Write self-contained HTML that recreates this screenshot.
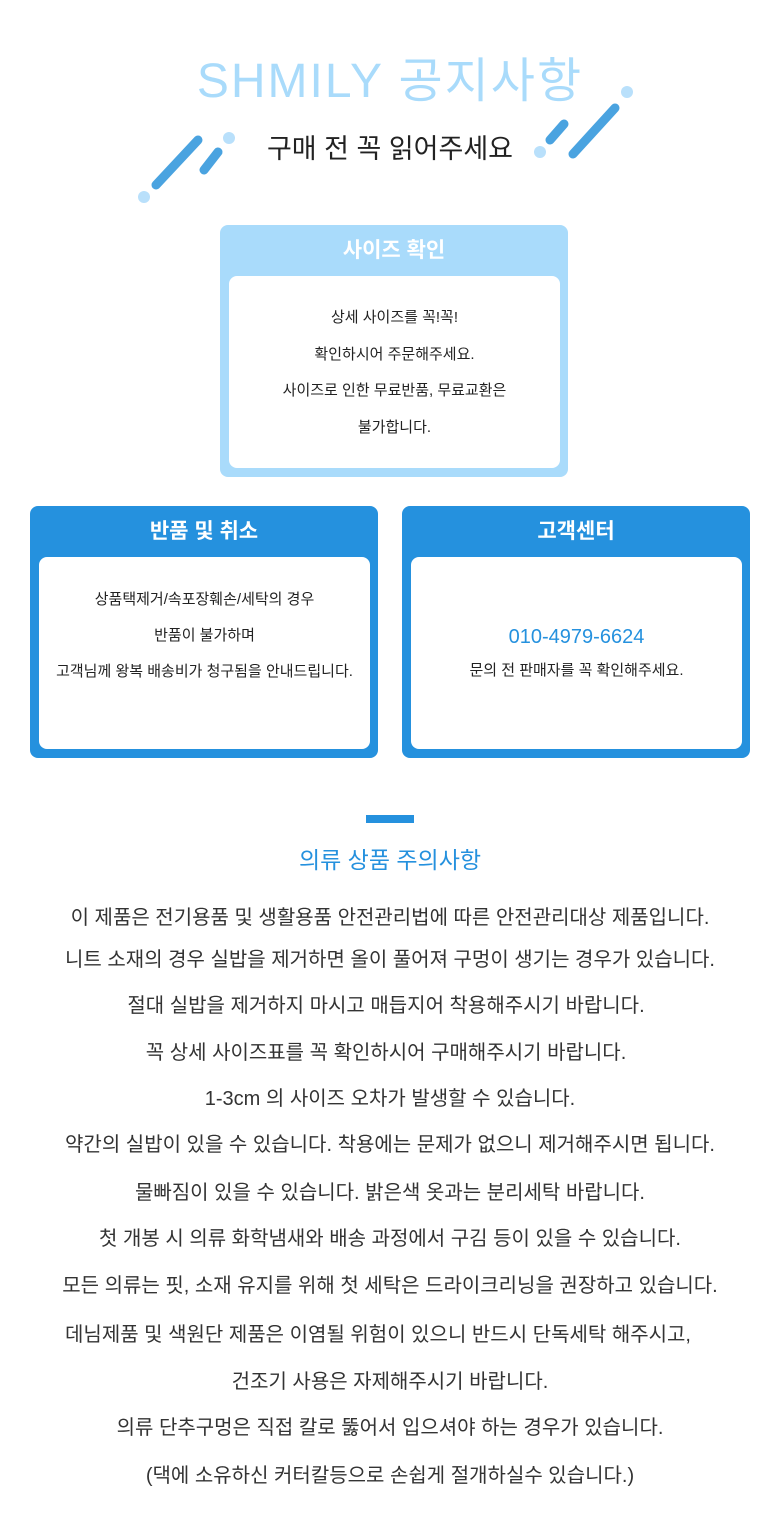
<!DOCTYPE html>
<html><head><meta charset="utf-8"><style>
body{margin:0;width:780px;height:1537px;background:#fff;position:relative;font-family:"Liberation Sans","Noto Sans CJK KR",sans-serif;overflow:hidden}
.a{position:absolute}
.box{position:absolute;border-radius:8px}
.box .h{position:absolute;left:0;right:0;top:0;height:51px;line-height:51px;text-align:center;color:#fff;font-size:21px;font-weight:bold}
.box .in{position:absolute;left:9px;right:8px;top:51px;bottom:9px;background:#fff;border-radius:8px;text-align:center;font-size:15px;color:#222}
.l{position:absolute;left:0;width:780px;text-align:center;font-size:20px;color:#333}
</style></head><body>
<div class="a" style="left:0;top:41px;width:780px;text-align:center;font-size:48px;color:#a9dbfb;letter-spacing:2px">SHMILY 공지사항</div>
<div class="a" style="left:0;top:127px;width:780px;text-align:center;font-size:27px;color:#222">구매 전 꼭 읽어주세요</div>
<svg class="a" style="left:0;top:0" width="780" height="220">
<g stroke="#4aa3e0" stroke-width="9" stroke-linecap="round">
<line x1="198" y1="140" x2="156" y2="185"/><line x1="218" y1="152" x2="204" y2="170"/>
<line x1="564" y1="124" x2="550" y2="140"/><line x1="615" y1="108" x2="573" y2="154"/></g>
<g fill="#b9e0fb"><circle cx="144" cy="197" r="6"/><circle cx="229" cy="138" r="6"/><circle cx="540" cy="152" r="6"/><circle cx="627" cy="92" r="6"/></g>
</svg>
<div class="box" style="left:220px;top:225px;width:348px;height:252px;background:#a9dbfb">
<div class="h">사이즈 확인</div>
<div class="in"><div style="padding-top:24px;line-height:36.5px">상세 사이즈를 꼭!꼭!<br>확인하시어 주문해주세요.<br>사이즈로 인한 무료반품, 무료교환은<br>불가합니다.</div></div></div>
<div class="box" style="left:30px;top:506px;width:348px;height:252px;background:#2591de">
<div class="h">반품 및 취소</div>
<div class="in"><div style="padding-top:25px;line-height:36px">상품택제거/속포장훼손/세탁의 경우<br>반품이 불가하며<br>고객님께 왕복 배송비가 청구됨을 안내드립니다.</div></div></div>
<div class="box" style="left:402px;top:506px;width:348px;height:252px;background:#2591de">
<div class="h">고객센터</div>
<div class="in"><div style="padding-top:69px;font-size:20px;color:#2591de">010-4979-6624</div><div style="padding-top:10px">문의 전 판매자를 꼭 확인해주세요.</div></div></div>
<div class="a" style="left:366px;top:815px;width:48px;height:8px;background:#2591de"></div>
<div class="l" style="top:841px;font-size:23px;color:#2591de">의류 상품 주의사항</div>
<div class="l" style="top:901px">이 제품은 전기용품 및 생활용품 안전관리법에 따른 안전관리대상 제품입니다.</div>
<div class="l" style="top:943px">니트 소재의 경우 실밥을 제거하면 올이 풀어져 구멍이 생기는 경우가 있습니다.</div>
<div class="l" style="top:989px;left:-4px">절대 실밥을 제거하지 마시고 매듭지어 착용해주시기 바랍니다.</div>
<div class="l" style="top:1036px;left:-4px">꼭 상세 사이즈표를 꼭 확인하시어 구매해주시기 바랍니다.</div>
<div class="l" style="top:1082px">1-3cm 의 사이즈 오차가 발생할 수 있습니다.</div>
<div class="l" style="top:1128px">약간의 실밥이 있을 수 있습니다. 착용에는 문제가 없으니 제거해주시면 됩니다.</div>
<div class="l" style="top:1176px">물빠짐이 있을 수 있습니다. 밝은색 옷과는 분리세탁 바랍니다.</div>
<div class="l" style="top:1222px">첫 개봉 시 의류 화학냄새와 배송 과정에서 구김 등이 있을 수 있습니다.</div>
<div class="l" style="top:1269px">모든 의류는 핏, 소재 유지를 위해 첫 세탁은 드라이크리닝을 권장하고 있습니다.</div>
<div class="l" style="top:1318px;left:-12px">데님제품 및 색원단 제품은 이염될 위험이 있으니 반드시 단독세탁 해주시고,</div>
<div class="l" style="top:1365px">건조기 사용은 자제해주시기 바랍니다.</div>
<div class="l" style="top:1411px">의류 단추구멍은 직접 칼로 뚫어서 입으셔야 하는 경우가 있습니다.</div>
<div class="l" style="top:1459px">(댁에 소유하신 커터칼등으로 손쉽게 절개하실수 있습니다.)</div>
</body></html>
